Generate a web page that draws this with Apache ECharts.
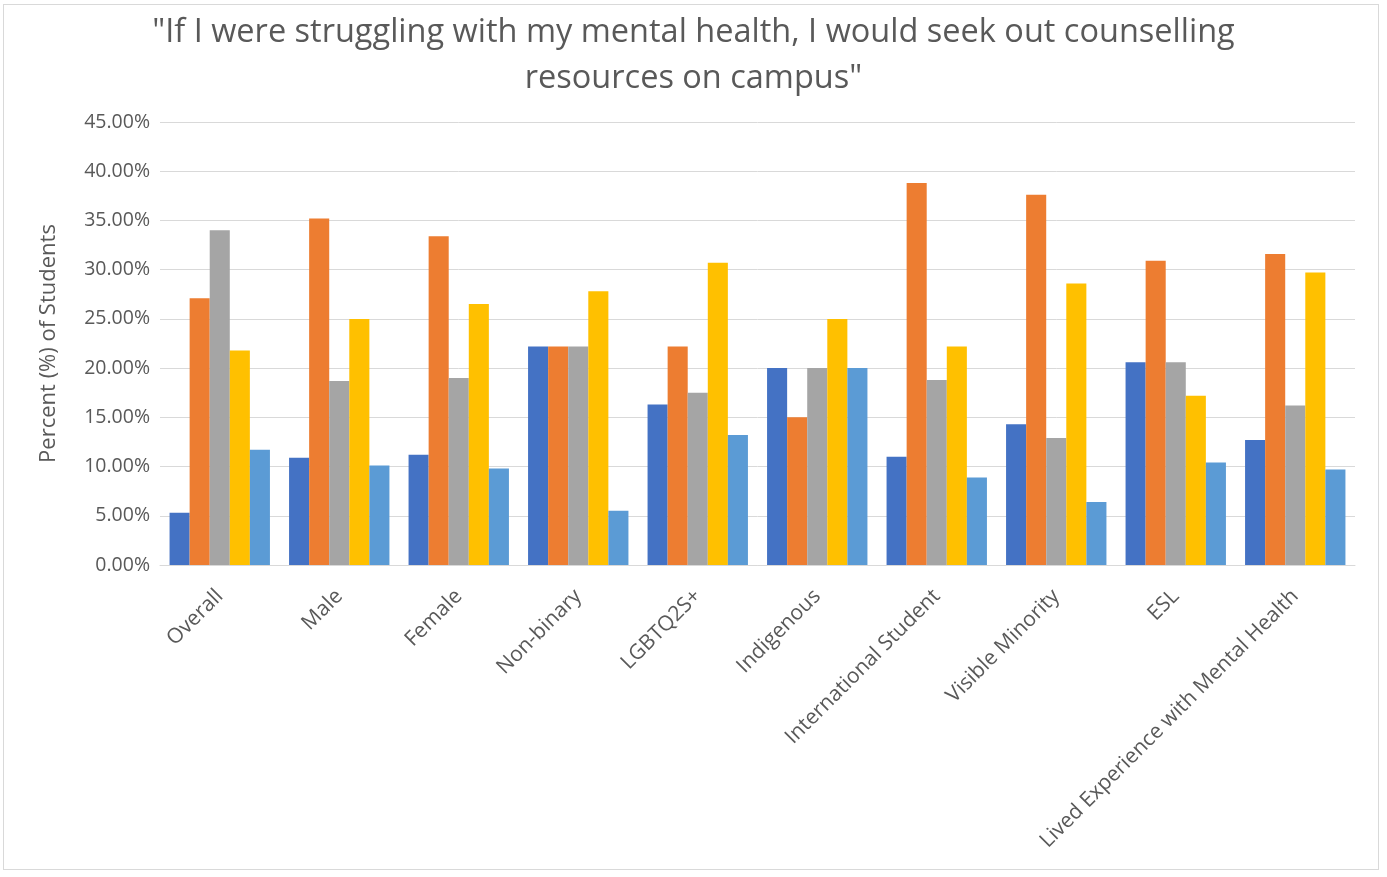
<!DOCTYPE html>
<html><head><meta charset="utf-8">
<script src="https://cdn.jsdelivr.net/npm/echarts@6/dist/echarts.min.js"></script>
<style>
html,body{margin:0;padding:0;background:#fff;}
#wrap{position:absolute;left:3px;top:4px;width:1376px;height:866px;border:1px solid #d9d9d9;box-sizing:border-box;}
#c{width:1387px;height:877px;position:absolute;left:0;top:0;}
</style></head>
<body>
<div id="wrap"></div>
<div id="c"></div>
<script>
const categories = ["Overall","Male","Female","Non-binary","LGBTQ2S+","Indigenous","International Student","Visible Minority","ESL","Lived Experience with Mental Health"];
const series1 = [5.3, 10.9, 11.2, 22.2, 16.3, 20.0, 11.0, 14.3, 20.6, 12.7];
const series2 = [27.1, 35.2, 33.4, 22.2, 22.2, 15.0, 38.8, 37.6, 30.9, 31.6];
const series3 = [34.0, 18.7, 19.0, 22.2, 17.5, 20.0, 18.8, 12.9, 20.6, 16.2];
const series4 = [21.8, 25.0, 26.5, 27.8, 30.7, 25.0, 22.2, 28.6, 17.2, 29.7];
const series5 = [11.7, 10.1, 9.8, 5.5, 13.2, 20.0, 8.9, 6.4, 10.4, 9.7];
const colors = ["#4472C4","#ED7D31","#A5A5A5","#FFC000","#5B9BD5"];
const font = "'Open Sans', sans-serif";
const chart = echarts.init(document.getElementById('c'));
const mk = (d,i)=>({type:'bar',data:d,barGap:'0%',barCategoryGap:'16%',itemStyle:{color:colors[i]},animation:false});
chart.setOption({
  title:{text:'"If I were struggling with my mental health, I would seek out counselling\nresources on campus"',left:'center',top:5,
    textStyle:{fontFamily:font,fontSize:32.5,fontWeight:'normal',color:'#595959',lineHeight:46}},
  grid:{left:160,right:32,top:122,bottom:312,containLabel:false},
  xAxis:{type:'category',data:categories,
    axisLine:{lineStyle:{color:'#d9d9d9'}},axisTick:{show:false},
    axisLabel:{rotate:45,interval:0,fontFamily:font,fontSize:21,color:'#595959',margin:28}},
  yAxis:{type:'value',min:0,max:45,interval:5,
    name:'Percent (%) of Students',nameLocation:'middle',nameGap:100,nameRotate:90,
    nameTextStyle:{fontFamily:font,fontSize:22,color:'#595959'},
    axisLabel:{formatter:v=>v.toFixed(2)+'%',fontFamily:font,fontSize:19.5,color:'#595959',margin:10},
    splitLine:{lineStyle:{color:'#d9d9d9'}},axisLine:{show:false},axisTick:{show:false}},
  series:[mk(series1,0),mk(series2,1),mk(series3,2),mk(series4,3),mk(series5,4)]
});
</script>
</body></html>
